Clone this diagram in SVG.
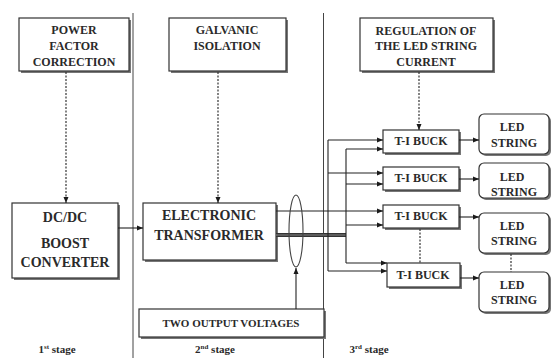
<svg xmlns="http://www.w3.org/2000/svg" width="552" height="358" viewBox="0 0 552 358">
<defs>
<marker id="ah" viewBox="0 0 6 6" refX="6" refY="3" markerWidth="6" markerHeight="6" markerUnits="userSpaceOnUse" orient="auto">
<path d="M0,0.5 L6,3 L0,5.5 Z" fill="#1a1a1a"/>
</marker>
</defs>
<style>
.box{fill:#fff;stroke:#333;stroke-width:1.2}
.sh{fill:#777}
.t{font-family:"Liberation Serif","Times New Roman",serif;font-weight:bold;fill:#2a2a2a;text-anchor:middle}
.s12{font-size:12px}
.s14{font-size:14px}
.s11{font-size:11px}
.ln{stroke:#222;stroke-width:1.1;fill:none}
.dash{stroke:#333;stroke-width:1.2;stroke-dasharray:2,1.5;fill:none}
.sep{stroke:#444;stroke-width:1}
</style>
<rect width="552" height="358" fill="#fff"/>
<g id="separators">
<line class="sep" x1="133" y1="13" x2="133" y2="358"/>
<line class="sep" x1="323.5" y1="13" x2="323.5" y2="358"/>
</g>
<g id="pfc">
<rect class="sh" x="21" y="20" width="110" height="53"/>
<rect class="box" x="19" y="18" width="110" height="53"/>
<text class="t s12" x="74" y="34">POWER</text>
<text class="t s12" x="74" y="50">FACTOR</text>
<text class="t s12" x="74" y="66">CORRECTION</text>
</g>
<g id="galvanic">
<rect class="sh" x="171" y="20" width="117" height="53"/>
<rect class="box" x="169" y="18" width="117" height="53"/>
<text class="t s12" x="227" y="34">GALVANIC</text>
<text class="t s12" x="227" y="50">ISOLATION</text>
</g>
<g id="regulation">
<rect class="sh" x="362" y="20" width="133" height="53"/>
<rect class="box" x="360" y="18" width="133" height="53"/>
<text class="t s12" x="426" y="35">REGULATION OF</text>
<text class="t s12" x="426" y="50">THE LED STRING</text>
<text class="t s12" x="426" y="66">CURRENT</text>
</g>
<g id="dcdc">
<rect class="sh" x="14" y="205" width="106" height="75"/>
<rect class="box" x="12" y="203" width="106" height="75"/>
<text class="t s14" x="65" y="222">DC/DC</text>
<text class="t s14" x="65" y="248">BOOST</text>
<text class="t s14" x="65" y="267">CONVERTER</text>
</g>
<g id="transformer">
<rect class="sh" x="145" y="205" width="133" height="57"/>
<rect class="box" x="143" y="203" width="133" height="57"/>
<text class="t s14" x="209" y="220">ELECTRONIC</text>
<text class="t s14" x="209" y="240">TRANSFORMER</text>
</g>
<g id="twovolt">
<rect class="sh" x="141" y="311" width="185" height="28"/>
<rect class="box" x="139" y="309" width="185" height="28"/>
<text class="t s11" x="231" y="327">TWO OUTPUT VOLTAGES</text>
</g>
<g id="buck1">
<rect class="sh" x="385" y="132" width="76" height="23"/>
<rect class="box" x="383" y="130" width="76" height="23"/>
<text class="t s12" x="421" y="145">T-I BUCK</text>
</g>
<g id="buck2">
<rect class="sh" x="385" y="169" width="76" height="23"/>
<rect class="box" x="383" y="167" width="76" height="23"/>
<text class="t s12" x="421" y="182">T-I BUCK</text>
</g>
<g id="buck3">
<rect class="sh" x="385" y="207" width="76" height="23"/>
<rect class="box" x="383" y="205" width="76" height="23"/>
<text class="t s12" x="421" y="220">T-I BUCK</text>
</g>
<g id="buck4">
<rect class="sh" x="389" y="265" width="73" height="24"/>
<rect class="box" x="387" y="263" width="73" height="24"/>
<text class="t s12" x="423" y="279">T-I BUCK</text>
</g>
<g id="led1">
<rect class="sh" x="481" y="116" width="70" height="40" rx="5"/>
<rect class="box" x="479" y="114" width="70" height="40" rx="5"/>
<text class="t s12" x="512" y="131">LED</text>
<text class="t s12" x="514" y="147">STRING</text>
</g>
<g id="led2">
<rect class="sh" x="481" y="165" width="70" height="35" rx="5"/>
<rect class="box" x="479" y="163" width="70" height="35" rx="5"/>
<text class="t s12" x="512" y="181">LED</text>
<text class="t s12" x="514" y="196">STRING</text>
</g>
<g id="led3">
<rect class="sh" x="481" y="215" width="70" height="40" rx="5"/>
<rect class="box" x="479" y="213" width="70" height="40" rx="5"/>
<text class="t s12" x="512" y="230">LED</text>
<text class="t s12" x="514" y="245">STRING</text>
</g>
<g id="led4">
<rect class="sh" x="481" y="274" width="70" height="40" rx="5"/>
<rect class="box" x="479" y="272" width="70" height="40" rx="5"/>
<text class="t s12" x="512" y="289">LED</text>
<text class="t s12" x="514" y="304">STRING</text>
</g>
<g id="connectors">
<line class="dash" x1="66" y1="72" x2="66" y2="203" marker-end="url(#ah)"/>
<line class="dash" x1="218" y1="72" x2="218" y2="203" marker-end="url(#ah)"/>
<line class="dash" x1="419" y1="72" x2="419" y2="130" marker-end="url(#ah)"/>
<line class="ln" x1="118" y1="228" x2="143" y2="228" marker-end="url(#ah)"/>
<line class="ln" x1="276" y1="211" x2="383" y2="211" marker-end="url(#ah)"/>
<line x1="276" y1="235" x2="346" y2="235" stroke="#333" stroke-width="4"/>
<line x1="276" y1="235" x2="346" y2="235" stroke="#888" stroke-width="1"/>
<line class="ln" x1="328" y1="140" x2="328" y2="271"/>
<line class="ln" x1="346" y1="149" x2="346" y2="263"/>
<line class="ln" x1="328" y1="140" x2="383" y2="140" marker-end="url(#ah)"/>
<line class="ln" x1="346" y1="149" x2="383" y2="149" marker-end="url(#ah)"/>
<line class="ln" x1="328" y1="173" x2="383" y2="173" marker-end="url(#ah)"/>
<line class="ln" x1="346" y1="184" x2="383" y2="184" marker-end="url(#ah)"/>
<line class="ln" x1="346" y1="225" x2="383" y2="225" marker-end="url(#ah)"/>
<line class="ln" x1="346" y1="263" x2="387" y2="263" marker-end="url(#ah)"/>
<line class="ln" x1="328" y1="271" x2="387" y2="271" marker-end="url(#ah)"/>
<ellipse cx="296" cy="231" rx="7" ry="36" fill="none" stroke="#444" stroke-width="1.1"/>
<line class="ln" x1="296" y1="309" x2="296" y2="268" marker-end="url(#ah)"/>
<line class="ln" x1="459" y1="140" x2="479" y2="140" marker-end="url(#ah)"/>
<line class="ln" x1="459" y1="179" x2="479" y2="179" marker-end="url(#ah)"/>
<line class="ln" x1="459" y1="217" x2="479" y2="217" marker-end="url(#ah)"/>
<line class="ln" x1="460" y1="278" x2="479" y2="278" marker-end="url(#ah)"/>
<line class="dash" x1="420" y1="229" x2="420" y2="263" stroke-width="0.8"/>
<line class="dash" x1="511" y1="254" x2="511" y2="272" stroke-width="0.8"/>
</g>
<g id="stages">
<text class="t s11" x="57" y="353">1<tspan font-size="7" dy="-4">st</tspan><tspan dy="4"> stage</tspan></text>
<text class="t s11" x="215" y="353">2<tspan font-size="7" dy="-4">nd</tspan><tspan dy="4"> stage</tspan></text>
<text class="t s11" x="369" y="353">3<tspan font-size="7" dy="-4">rd</tspan><tspan dy="4"> stage</tspan></text>
</g>
</svg>
